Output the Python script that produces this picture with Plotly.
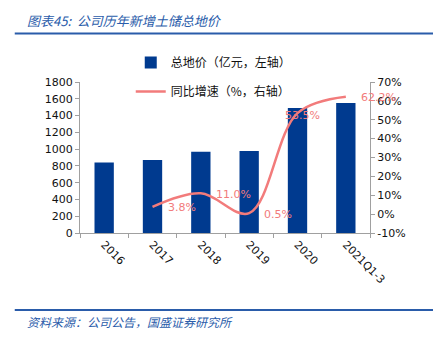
import plotly.graph_objects as go

categories = ["2016", "2017", "2018", "2019", "2020", "2021Q1-3"]
land_value = [840, 870, 970, 978, 1490, 1550]
growth_x = ["2017", "2018", "2019", "2020", "2021Q1-3"]
growth_pct = [3.8, 11.0, 0.5, 53.5, 62.2]
growth_text = ["3.8%", "11.0%", "0.5%", "53.5%", "62.2%"]
left_ticks = [0, 200, 400, 600, 800, 1000, 1200, 1400, 1600, 1800]
right_ticks = [-10, 0, 10, 20, 30, 40, 50, 60, 70]

BAR = "#003A8F"
LINE = "#F27B7B"
BLUE = "#2A5CAA"
TICKFONT = dict(family="DejaVu Sans", size=11, color="#111111")
CJK = "Noto Sans CJK SC"

fig = go.Figure()
fig.add_trace(go.Bar(
    x=categories, y=land_value, name="总地价（亿元，左轴）", legendgroup="a",
    marker=dict(color=BAR, line=dict(width=0)), width=0.4, yaxis="y",
))
fig.add_trace(go.Scatter(
    x=growth_x, y=growth_pct, name="同比增速（%，右轴）", yaxis="y2", legendgroup="b",
    mode="lines", line=dict(color=LINE, width=2.5, shape="spline"),
))

label_annotations = []
for cx, cy, t in zip(growth_x, growth_pct, growth_text):
    centered = (cx == "2020")
    label_annotations.append(dict(
        x=categories.index(cx), y=cy, xref="x", yref="y2", text=t, showarrow=False,
        xanchor="center" if centered else "left", yanchor="middle",
        xshift=5 if centered else 13, yshift=-2 if centered else -1,
        font=dict(family="DejaVu Sans", size=11, color=LINE),
    ))

fig.update_layout(
    width=433, height=340,
    margin=dict(l=80, r=63, t=82, b=107),
    paper_bgcolor="white", plot_bgcolor="white",
    showlegend=True,
    legend=dict(x=0.175, y=1.225, xanchor="left", yanchor="top",
                font=dict(family=CJK, size=12, color="#111111"),
                bgcolor="rgba(0,0,0,0)", itemwidth=30, tracegroupgap=10,
                traceorder="grouped"),
    xaxis=dict(type="category", categoryorder="array", categoryarray=categories,
               tickangle=45, tickfont=TICKFONT, showline=True, linecolor="#A0A0A0",
               ticks="outside", tickson="boundaries", ticklen=4, tickcolor="#A0A0A0",
               showgrid=False, range=[-0.5, 5.5]),
    yaxis=dict(range=[0, 1800], tickvals=left_ticks, tickfont=TICKFONT,
               showline=True, linecolor="#A0A0A0", ticks="outside", ticklen=4,
               tickcolor="#A0A0A0", showgrid=False, zeroline=False),
    yaxis2=dict(range=[-10, 70], tickvals=right_ticks,
                ticktext=[f"{v}%" for v in right_ticks], tickfont=TICKFONT,
                overlaying="y", side="right", showline=True, linecolor="#A0A0A0",
                ticks="outside", ticklen=4, tickcolor="#A0A0A0", showgrid=False,
                zeroline=False),
    shapes=[
        dict(type="line", xref="paper", yref="paper", x0=-0.225, x1=1.22,
             y0=1.322, y1=1.322, line=dict(color=BLUE, width=2)),
        dict(type="line", xref="paper", yref="paper", x0=-0.225, x1=1.22,
             y0=-0.51, y1=-0.51, line=dict(color=BLUE, width=2)),
    ],
    annotations=label_annotations + [
        dict(text="<i>图表45:  公司历年新增土储总地价</i>", xref="paper", yref="paper",
             x=-0.19, y=1.41, xanchor="left", yanchor="middle", showarrow=False,
             font=dict(family=CJK, size=13, color=BLUE)),
        dict(text="<i>资料来源：公司公告，国盛证券研究所</i>", xref="paper", yref="paper",
             x=-0.19, y=-0.585, xanchor="left", yanchor="middle", showarrow=False,
             font=dict(family=CJK, size=12, color=BLUE)),
    ],
)

fig.write_html("out.html")
